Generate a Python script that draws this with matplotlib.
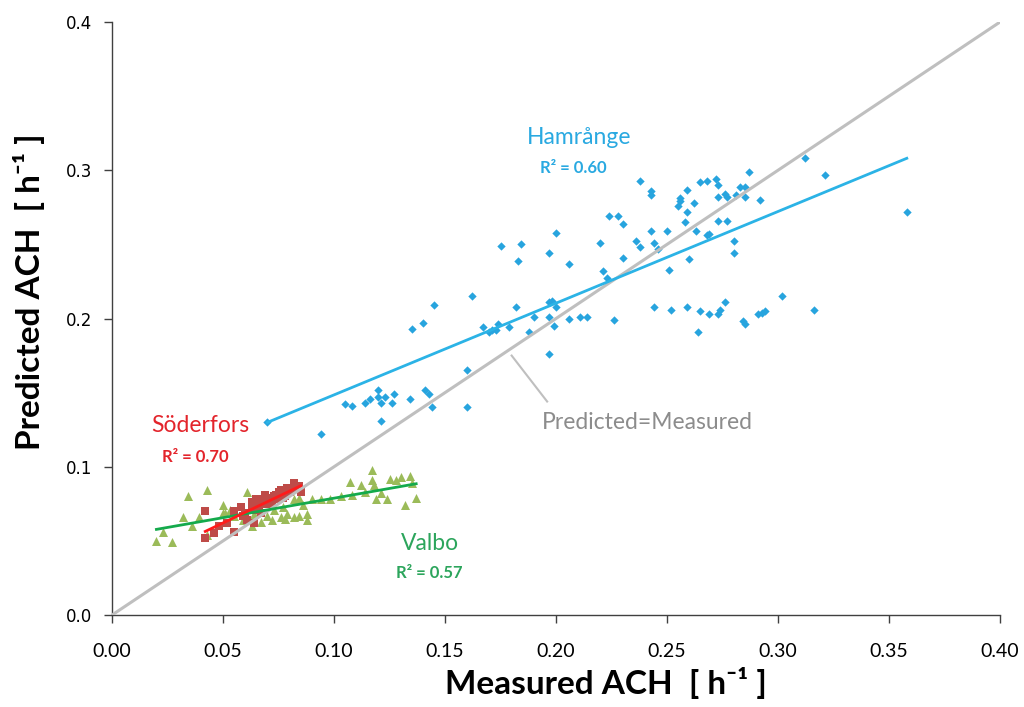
import numpy as np
import matplotlib
matplotlib.use("Agg")
import matplotlib.pyplot as plt

# Hamrange (blue diamonds)
ham_x = [0.070, 0.094, 0.105, 0.108, 0.114, 0.116, 0.120, 0.120, 0.121, 0.123,
         0.126, 0.127, 0.121, 0.134, 0.141, 0.143, 0.144, 0.135, 0.140, 0.145,
         0.162, 0.160, 0.160, 0.167, 0.170, 0.171, 0.173, 0.174, 0.179, 0.182,
         0.188, 0.190, 0.175, 0.184, 0.183, 0.197, 0.197, 0.198, 0.200, 0.197,
         0.199, 0.197, 0.200, 0.206, 0.211, 0.214, 0.206,
         0.220, 0.224, 0.228, 0.230, 0.230, 0.221, 0.223, 0.226, 0.238, 0.243,
         0.243, 0.236, 0.238, 0.243, 0.244, 0.246, 0.250, 0.251, 0.244, 0.252,
         0.256, 0.256, 0.255, 0.259, 0.259, 0.262, 0.258, 0.263, 0.260, 0.259,
         0.265, 0.269, 0.264, 0.273, 0.274, 0.276, 0.265, 0.268, 0.272, 0.273,
         0.273, 0.276, 0.277, 0.281, 0.283, 0.285, 0.285, 0.287, 0.292, 0.273,
         0.277, 0.268, 0.269, 0.280, 0.280, 0.284, 0.285, 0.291, 0.293, 0.294,
         0.302, 0.316, 0.312, 0.321, 0.358]
ham_y = [0.130, 0.122, 0.142, 0.141, 0.143, 0.146, 0.152, 0.147, 0.143, 0.147,
         0.143, 0.149, 0.131, 0.146, 0.152, 0.149, 0.140, 0.193, 0.197, 0.209,
         0.215, 0.165, 0.140, 0.194, 0.191, 0.192, 0.192, 0.196, 0.194, 0.208,
         0.191, 0.201, 0.249, 0.250, 0.239, 0.176, 0.211, 0.212, 0.208, 0.201,
         0.195, 0.244, 0.258, 0.200, 0.201, 0.201, 0.237,
         0.251, 0.269, 0.269, 0.264, 0.241, 0.232, 0.227, 0.199, 0.293, 0.286,
         0.283, 0.252, 0.248, 0.259, 0.251, 0.247, 0.259, 0.233, 0.208, 0.206,
         0.281, 0.279, 0.276, 0.287, 0.272, 0.278, 0.265, 0.259, 0.240, 0.208,
         0.205, 0.203, 0.191, 0.203, 0.206, 0.211, 0.292, 0.293, 0.294, 0.290,
         0.282, 0.284, 0.282, 0.283, 0.289, 0.289, 0.282, 0.299, 0.280, 0.266,
         0.266, 0.256, 0.257, 0.252, 0.244, 0.198, 0.196, 0.203, 0.204, 0.205,
         0.215, 0.206, 0.308, 0.297, 0.272]

# Soderfors (red squares)
sod_x = [0.042, 0.042, 0.046, 0.055, 0.055, 0.058, 0.059, 0.063, 0.064, 0.065,
         0.068, 0.069, 0.070, 0.073, 0.074, 0.076, 0.079, 0.079, 0.082, 0.082,
         0.085, 0.048, 0.052, 0.060, 0.063, 0.065, 0.071, 0.074, 0.067, 0.072,
         0.077, 0.080, 0.084, 0.061, 0.066, 0.070, 0.075, 0.078]
sod_y = [0.070, 0.052, 0.055, 0.056, 0.070, 0.073, 0.067, 0.072, 0.062, 0.078,
         0.078, 0.081, 0.075, 0.080, 0.078, 0.084, 0.082, 0.086, 0.089, 0.085,
         0.083, 0.060, 0.062, 0.069, 0.076, 0.071, 0.075, 0.081, 0.069, 0.077,
         0.079, 0.083, 0.087, 0.064, 0.074, 0.079, 0.083, 0.080]

# Valbo (green triangles)
val_x = [0.020, 0.023, 0.027, 0.032, 0.034, 0.036, 0.039, 0.043, 0.043, 0.050,
         0.050, 0.053, 0.055, 0.061, 0.059, 0.064, 0.067, 0.070, 0.073, 0.076,
         0.077, 0.079, 0.082, 0.082, 0.084, 0.084, 0.086, 0.088, 0.088, 0.090,
         0.094, 0.098, 0.103, 0.107, 0.108, 0.112, 0.114, 0.117, 0.117, 0.118,
         0.119, 0.121, 0.124, 0.125, 0.128, 0.130, 0.132, 0.134, 0.135, 0.137,
         0.063, 0.072, 0.078, 0.051]
val_y = [0.050, 0.056, 0.049, 0.066, 0.080, 0.060, 0.066, 0.084, 0.054, 0.074,
         0.069, 0.071, 0.067, 0.083, 0.064, 0.068, 0.063, 0.067, 0.071, 0.066,
         0.073, 0.068, 0.078, 0.066, 0.079, 0.067, 0.074, 0.068, 0.064, 0.078,
         0.078, 0.078, 0.080, 0.090, 0.081, 0.088, 0.083, 0.098, 0.091, 0.088,
         0.078, 0.082, 0.078, 0.092, 0.091, 0.093, 0.074, 0.094, 0.089, 0.079,
         0.060, 0.064, 0.065, 0.069]

x_ticks = [0.00, 0.05, 0.10, 0.15, 0.20, 0.25, 0.30, 0.35, 0.40]
y_ticks = [0.0, 0.1, 0.2, 0.3, 0.4]

c_ham = "#27A4DE"
c_ham_line = "#2BB3E6"
c_sod = "#BE4B48"
c_sod_line = "#FF1A1A"
c_val = "#9BBB59"
c_val_line = "#14AA4C"
c_id = "#BFBFBF"

fam = ["Lato", "DejaVu Sans"]

fig = plt.figure(figsize=(10.24, 7.07), dpi=100)
ax = fig.add_axes([0.1094, 0.1301, 0.8672, 0.8388])

ax.scatter(ham_x, ham_y, marker="D", s=18, color=c_ham, linewidths=0, zorder=3)
ax.scatter(val_x, val_y, marker="^", s=42, color=c_val, linewidths=0, zorder=3)
ax.scatter(sod_x, sod_y, marker="s", s=40, color=c_sod, linewidths=0, zorder=3)

ax.plot([0, 0.4], [0, 0.4], color=c_id, lw=2.2, zorder=4)


def trend(xs, ys, color):
    xs = np.asarray(xs)
    k, m = np.polyfit(xs, ys, 1)
    xx = np.array([xs.min(), xs.max()])
    ax.plot(xx, k * xx + m, color=color, lw=2, zorder=5)


trend(ham_x, ham_y, c_ham_line)
trend(val_x, val_y, c_val_line)
trend(sod_x, sod_y, c_sod_line)

# callout for the 1:1 line
ax.plot([0.180, 0.196], [0.175, 0.144], color=c_id, lw=1.5, zorder=4)
ax.text(0.241, 0.130, "Predicted=Measured", color="#8C8C8C", fontsize=16.5,
        family=fam, ha="center", va="center")

ax.text(0.2104, 0.3224, "Hamrånge", color="#29A9E1", fontsize=16.5,
        family=fam, ha="center", va="center")
ax.text(0.2077, 0.3015, "R² = 0.60", color="#29A9E1", fontsize=12,
        family=fam, weight="bold", ha="center", va="center")
ax.text(0.0396, 0.128, "Söderfors", color="#E3242B", fontsize=16.5,
        family=fam, ha="center", va="center")
ax.text(0.0374, 0.1064, "R² = 0.70", color="#E3242B", fontsize=12,
        family=fam, weight="bold", ha="center", va="center")
ax.text(0.1432, 0.0484, "Valbo", color="#2CA55C", fontsize=16.5,
        family=fam, ha="center", va="center")
ax.text(0.1429, 0.0286, "R² = 0.57", color="#2CA55C", fontsize=12,
        family=fam, weight="bold", ha="center", va="center")

ax.set_xlim(0, 0.4)
ax.set_ylim(0, 0.4)
ax.set_xticks(x_ticks)
ax.set_xticklabels(["%.2f" % v for v in x_ticks], family="Lato", fontsize=14)
ax.set_yticks(y_ticks)
ax.set_yticklabels(["%.1f" % v for v in y_ticks], family="DejaVu Sans", fontsize=12)
ax.tick_params(direction="out", length=6, width=1, color="#404040", pad=8)
ax.tick_params(axis="x", pad=14)
for s in ["top", "right"]:
    ax.spines[s].set_visible(False)
for s in ["left", "bottom"]:
    ax.spines[s].set_color("#404040")
    ax.spines[s].set_linewidth(1)

ax.set_xlabel("Measured ACH  [ h⁻¹ ]", fontsize=24, weight="bold", family=fam)
ax.xaxis.set_label_coords(0.556, -0.087)
ax.set_ylabel("Predicted ACH  [ h⁻¹ ]", fontsize=24, weight="bold", family=fam)
ax.yaxis.set_label_coords(-0.075, 0.545)

fig.savefig("out.png", dpi=100)
